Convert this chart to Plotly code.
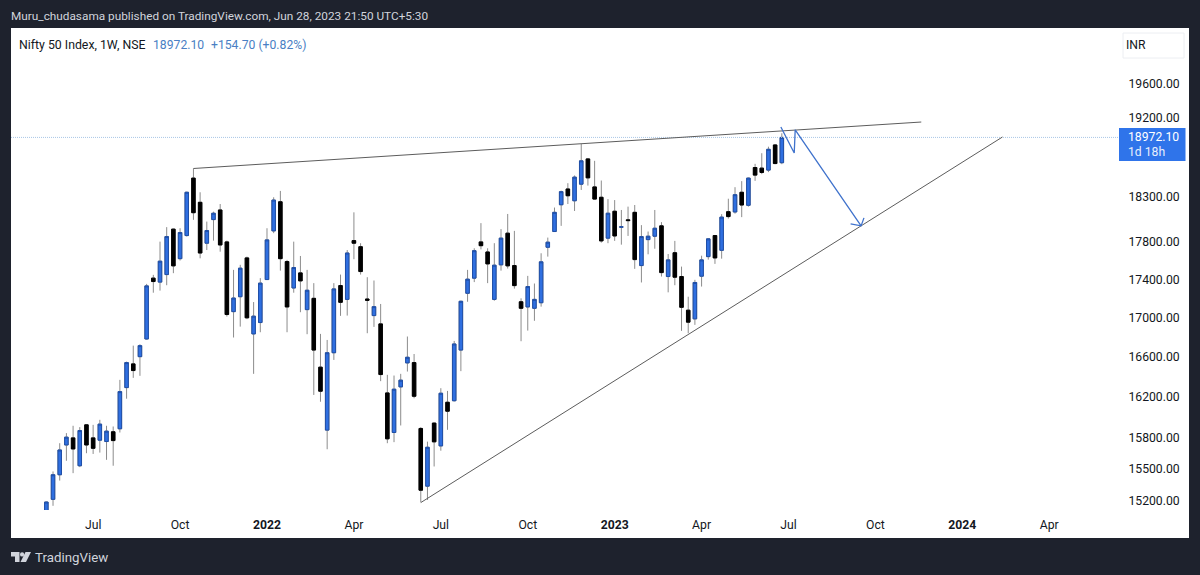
import pandas as pd
import plotly.graph_objects as go

first_week = "2021-05-17"
opens = [15050,15215,15445,15728,15796,15530,15922,15796,15774,15761,15855,15884,16288,16525,16598,16778,17412,17370,17450,17940,17620,17870,18507,18236,17787,18045,18151,17801,17060,17216,17628,16830,16947,17397,17921,18242,17589,17308,17468,17081,17199,16492,15871,16638,17333,17188,17815,17749,17192,17019,16933,16235,15848,16295,16535,16538,15887,15338,15939,15719,16143,16158,16665,17252,17412,17801,17692,17188,17554,17896,17546,17163,17109,17095,17153,17743,17914,18209,18385,18253,18439,18725,18408,18292,17842,18137,17962,18042,18125,17546,17826,17863,17976,17429,17684,17429,17075,16985,17433,17642,17870,17710,18132,18129,18348,18203,18627,18620,18598,18885,18682]
highs = [15195,15476,15745,15842,15913,15900,15925,15922,15971,15913,15906,16365,16548,16710,16724,17351,17447,17804,17962,17946,17950,18355,18616,18348,18023,18132,18217,17815,17500,17554,17642,17160,17412,17950,18292,18363,17607,17804,17649,17500,17359,16830,16768,17359,17450,17713,18125,17787,17422,17387,17140,16415,16408,16425,16803,16625,15900,15760,15945,16282,16255,16758,17174,17500,17732,18006,17732,17787,17940,18107,17921,17199,17436,17355,17678,17848,18178,18366,18450,18537,18896,18733,18703,18480,18272,18261,18151,18188,18206,17984,17914,18151,18017,17670,17812,17535,17216,17394,17652,17842,17875,18105,18276,18405,18473,18514,18669,18790,18865,18896,19020]
lows = [15050,15155,15390,15577,15460,15517,15649,15642,15655,15586,15530,15848,16178,16385,16405,16771,17258,17280,17337,17465,17600,17859,18042,17624,17713,17815,17695,17009,16793,16905,16982,16425,16847,17394,17896,17492,16847,17258,17054,16827,16215,16148,15687,16565,17016,17019,17614,17450,16837,16902,16352,15745,15755,15916,16448,16182,15188,15209,15523,15673,15874,16150,16452,17163,17370,17720,17359,17174,17492,17514,17301,16755,16864,16965,17112,17642,17910,17976,18217,18140,18374,18423,18268,17793,17787,17812,17771,17866,17511,17366,17667,17727,17429,17262,17337,16861,16837,16923,17323,17610,17564,17620,18056,18110,18072,18188,18476,18552,18575,18665,18665]
closes = [15190,15445,15680,15803,15690,15867,15728,15696,15929,15861,15770,16248,16538,16458,16710,17330,17376,17593,17859,17543,17903,18348,18121,17681,17925,18115,17768,17030,17202,17518,16996,17013,17359,17823,18261,17620,17109,17525,17383,17284,16665,16252,16638,17298,17157,17681,17787,17482,17178,17112,16418,15787,16272,16362,16592,16202,15300,15706,15758,16232,16055,16727,17168,17401,17706,17760,17564,17550,17842,17543,17333,17095,17323,17188,17586,17798,18125,18355,18309,18518,18703,18510,18272,17812,18115,17866,17965,18034,17610,17859,17863,17950,17471,17607,17422,17105,16951,17366,17607,17834,17628,18072,18078,18321,18206,18507,18541,18571,18835,18672,18972.10]

upper_dates = ["2021-10-18", "2023-11-19"]
upper_prices = [18616, 19151]
lower_dates = ["2022-06-13", "2024-02-12"]
lower_prices = [15185, 18977]
path_dates = ["2023-06-25", "2023-07-09", "2023-07-10", "2023-09-17"]
path_prices = [19093, 18793, 19060, 17976]
head_dates = ["2023-09-06", "2023-09-17", "2023-09-20"]
head_prices = [17998, 17976, 18064]

y_ticks = [19600, 19200, 18300, 17800, 17400, 17000, 16600, 16200, 15800, 15500, 15200]
x_tick_dates = ["2021-07-05", "2021-10-04", "2022-01-03", "2022-04-04", "2022-07-04", "2022-10-03",
                "2023-01-02", "2023-04-03", "2023-07-03", "2023-10-02", "2024-01-01", "2024-04-01"]
x_tick_labels = ["Jul", "Oct", "<b>2022</b>", "Apr", "Jul", "Oct", "<b>2023</b>", "Apr", "Jul", "Oct", "<b>2024</b>", "Apr"]

last_price = 18972.10
view_dates = ["2021-04-10", "2024-06-13"]

weeks = [d.strftime("%Y-%m-%d") for d in pd.date_range(first_week, periods=len(opens), freq="W-MON")]

W, H = 1200, 575
L, R, T, B = 11, 1189, 28, 538
def px(x): return (x - L) / (R - L)
def py(y): return (B - y) / (B - T)

DARK = "#1e222d"
BLUE = "#2f6fe0"
BLUE_EDGE = "#1f4fa8"
WICK = "#8c8c8c"
TREND = "#5c5c5c"
ARROW = "#3f72cc"
FONT = "Roboto"
TEXT = 12.2

fig = go.Figure()
fig.add_trace(go.Candlestick(
    x=weeks, open=opens, high=highs, low=lows, close=closes,
    increasing=dict(line=dict(color=WICK, width=1), fillcolor=WICK),
    decreasing=dict(line=dict(color=WICK, width=1), fillcolor=WICK),
    hoverinfo="skip", showlegend=False))
fig.add_trace(go.Candlestick(
    x=weeks, open=opens, close=closes,
    high=[max(o, c) for o, c in zip(opens, closes)],
    low=[min(o, c) for o, c in zip(opens, closes)],
    increasing=dict(line=dict(color=BLUE_EDGE, width=1), fillcolor=BLUE),
    decreasing=dict(line=dict(color="#000000", width=1), fillcolor="#000000"),
    hoverinfo="skip", showlegend=False))

def line(xs, ys, color, width, dash="solid"):
    fig.add_trace(go.Scatter(x=xs, y=ys, mode="lines", showlegend=False, hoverinfo="skip",
                             line=dict(color=color, width=width, dash=dash)))

line(view_dates, [last_price, last_price], "#a9c6e6", 1, "1px,1px")
line(upper_dates, upper_prices, TREND, 1)
line(lower_dates, lower_prices, TREND, 1)
line(path_dates, path_prices, ARROW, 1.3)
line(head_dates, head_prices, ARROW, 1.3)

def poly(points, fill):
    d = "M " + " L ".join(f"{px(a):.5f} {py(b):.5f}" for a, b in points) + " Z"
    return dict(type="path", xref="paper", yref="paper", path=d, fillcolor=fill, line=dict(width=0), layer="above")

shapes = [
    dict(type="rect", xref="paper", yref="paper", x0=0, x1=1, y0=0, y1=1,
         fillcolor="#ffffff", line=dict(width=0), layer="below"),
    dict(type="rect", xref="paper", yref="paper", x0=px(1123), x1=px(1184), y0=py(58), y1=py(33),
         fillcolor="#ffffff", line=dict(color="#eceef2", width=1), layer="above"),
    dict(type="rect", xref="paper", yref="paper", x0=px(1119), x1=px(1185.5), y0=py(161), y1=py(128),
         fillcolor="#2f74ea", line=dict(width=0), layer="above"),
    poly([(11, 552), (19.5, 552), (19.5, 562), (15, 562), (15, 556.5), (11, 556.5)], "#d1d4dc"),
    dict(type="circle", xref="paper", yref="paper", x0=px(20), x1=px(24.2), y0=py(556.6), y1=py(552.2),
         fillcolor="#d1d4dc", line=dict(width=0), layer="above"),
    poly([(25.5, 552), (31, 552), (26, 562), (20.5, 562)], "#d1d4dc"),
]

def note(x, y, text, color, size=TEXT):
    return dict(xref="paper", yref="paper", x=px(x), y=py(y), text=text, showarrow=False,
                xanchor="left", yanchor="middle", xshift=-2, font=dict(family=FONT, size=size, color=color))

annotations = [
    note(11, 16, "Muru_chudasama published on TradingView.com, Jun 28, 2023 21:50 UTC+5:30", "#d1d4dc", 11.8),
    note(19, 45, "Nifty 50 Index, 1W, NSE", "#131722", 12.3),
    note(153, 45, "18972.10", "#4a7fc4"),
    note(211, 45, "+154.70 (+0.82%)", "#4a7fc4"),
    note(1126, 45, "INR", "#131722"),
    note(1128, 137, "18972.10", "#ffffff"),
    note(1128, 152, "1d 18h", "#e6eefc"),
    note(35, 557, "TradingView", "#d1d4dc", 13.3),
]

fig.update_layout(
    width=W, height=H, autosize=False,
    margin=dict(l=L, r=W - R, t=T, b=H - B, pad=0),
    paper_bgcolor=DARK, plot_bgcolor="#ffffff",
    boxgap=0.25, showlegend=False,
    font=dict(family=FONT, size=TEXT, color="#131722"),
    shapes=shapes, annotations=annotations,
    xaxis=dict(type="date", domain=[0, px(1119)], range=view_dates, anchor="y",
               rangeslider=dict(visible=False), showgrid=False, zeroline=False, showline=False,
               tickmode="array", tickvals=x_tick_dates, ticktext=x_tick_labels,
               ticks="outside", ticklen=3, tickcolor="rgba(0,0,0,0)",
               tickfont=dict(family=FONT, size=TEXT, color="#131722")),
    yaxis=dict(type="log", domain=[py(510), 1], range=[4.17945, 4.30709], anchor="x", side="right",
               showgrid=False, zeroline=False, showline=False,
               tickmode="array", tickvals=y_ticks, ticktext=[f"{v:.2f}" for v in y_ticks],
               ticks="outside", ticklen=6, tickcolor="rgba(0,0,0,0)",
               tickfont=dict(family=FONT, size=TEXT, color="#131722")),
)

fig.write_html("out.html", config=dict(displayModeBar=False),
               post_script="document.body.style.margin='0';document.body.style.overflow='hidden';")
